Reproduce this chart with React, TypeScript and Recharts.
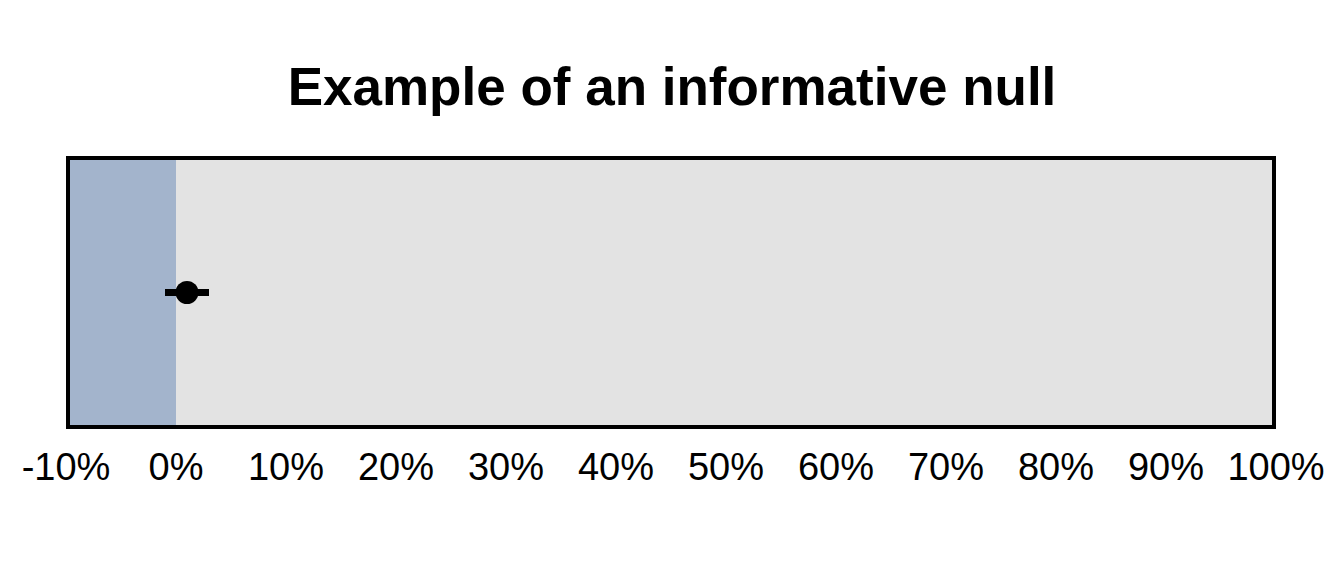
import React from "react";
import {
  ScatterChart,
  Scatter,
  XAxis,
  YAxis,
  ReferenceArea,
  ErrorBar,
} from "recharts";

const title = "Example of an informative null";
const xTicks = [-10, 0, 10, 20, 30, 40, 50, 60, 70, 80, 90, 100];
const xDomain = [-10, 100];
const nullRegion = [-10, 0];
const estimates = [{ x: 1, y: 1, err: 2 }];

const FONT = "'Liberation Sans', Arial, sans-serif";

const BorderShape = (props: any) => {
  const { x, y, width, height } = props;
  return (
    <rect
      x={x + 2}
      y={y + 2}
      width={width - 4}
      height={height - 4}
      fill="none"
      stroke="#000"
      strokeWidth={4}
    />
  );
};

const Dot = (props: any) => {
  const { cx, cy } = props;
  return <circle cx={cx} cy={cy} r={11.5} fill="#000" />;
};

export default function App() {
  return (
    <div style={{ position: "absolute", left: 0, top: 0, width: 1344, height: 576, background: "#fff" }}>
      <svg width={1344} height={576} style={{ position: "absolute", left: 0, top: 0 }}>
        <text
          x={672}
          y={105}
          textAnchor="middle"
          fontFamily={FONT}
          fontWeight="bold"
          fontSize={53}
          fill="#000"
        >
          {title}
        </text>
      </svg>
      <div style={{ position: "absolute", left: 0, top: 0 }}>
        <ScatterChart
          width={1344}
          height={576}
          margin={{ top: 156, right: 68, bottom: 87, left: 66 }}
        >
          <XAxis
            type="number"
            dataKey="x"
            domain={xDomain}
            ticks={xTicks}
            allowDataOverflow
            tickFormatter={(v: number) => `${v}%`}
            axisLine={false}
            tickLine={false}
            tickSize={0}
            tickMargin={24}
            height={60}
            interval={0}
            tick={{ fill: "#000", fontSize: 38, fontFamily: FONT }}
          />
          <YAxis type="number" dataKey="y" domain={[0, 2]} hide />
          <ReferenceArea
            x1={xDomain[0]}
            x2={xDomain[1]}
            y1={0}
            y2={2}
            fill="#e3e3e3"
            fillOpacity={1}
            stroke="none"
          />
          <ReferenceArea
            x1={nullRegion[0]}
            x2={nullRegion[1]}
            y1={0}
            y2={2}
            fill="#a3b4cc"
            fillOpacity={1}
            stroke="none"
          />
          <ReferenceArea
            x1={xDomain[0]}
            x2={xDomain[1]}
            y1={0}
            y2={2}
            shape={BorderShape}
          />
          <Scatter data={estimates} isAnimationActive={false} shape={Dot}>
            <ErrorBar
              dataKey="err"
              direction="x"
              width={0}
              strokeWidth={7}
              stroke="#000"
            />
          </Scatter>
        </ScatterChart>
      </div>
    </div>
  );
}
